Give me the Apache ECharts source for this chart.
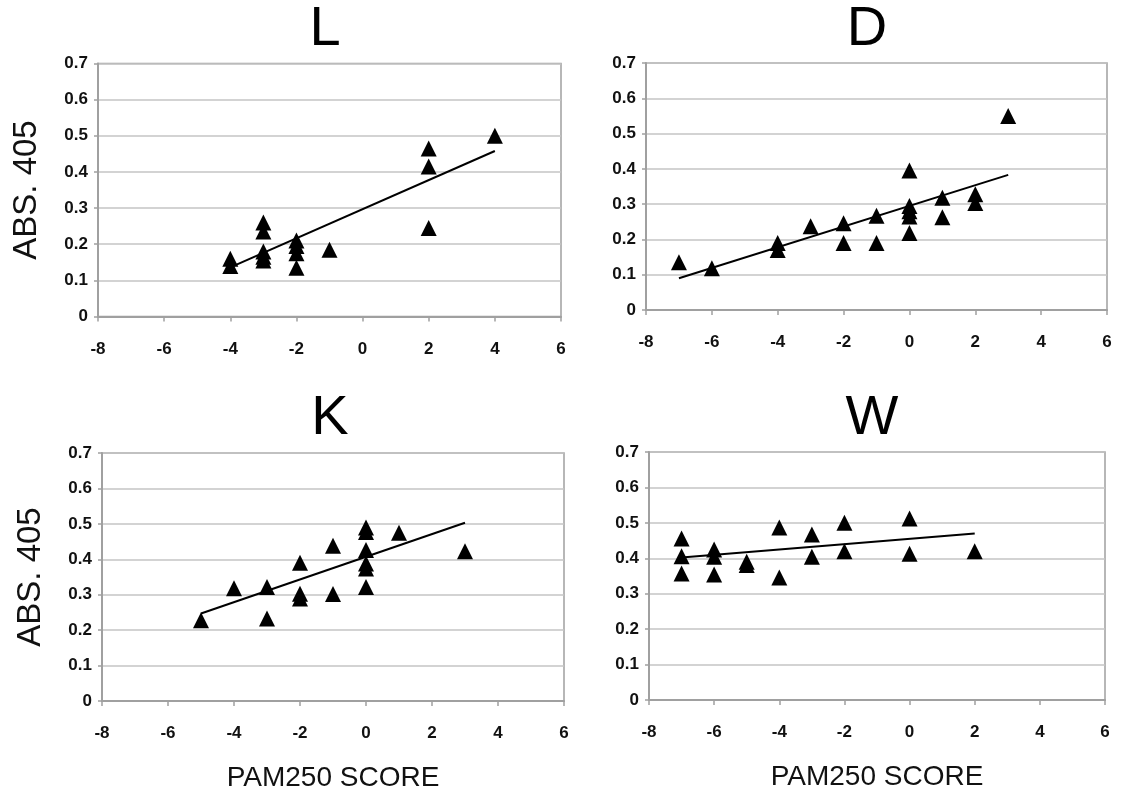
<!DOCTYPE html>
<html>
<head>
<meta charset="utf-8">
<script src="https://cdn.jsdelivr.net/npm/echarts@6/dist/echarts.min.js"></script>
<style>html,body{margin:0;padding:0;background:#fff}#c{width:1133px;height:801px}</style>
</head>
<body>
<div id="c"></div>
<script>
// ---- data ----
const panelTitles = ['L', 'D', 'K', 'W'];
const xTickMin = -8, xTickMax = 6, xTickStep = 2;
const yTickMin = 0, yTickMax = 0.7, yTickStep = 0.1;
const xAxisTitle = 'PAM250 SCORE';
const yAxisTitle = 'ABS. 405';

const L_x = [-4, -4, -3, -3, -3, -3, -3, -2, -2, -2, -2, -1, 2, 2, 2, 4];
const L_y = [0.16, 0.14, 0.26, 0.235, 0.18, 0.165, 0.155, 0.21, 0.195, 0.175, 0.135, 0.185, 0.465, 0.415, 0.245, 0.50];
const L_trend_x = [-4, 4];
const L_trend_y = [0.136, 0.458];

const D_x = [-7, -6, -4, -4, -3, -2, -2, -1, -1, 0, 0, 0, 0, 0, 1, 1, 2, 2, 3];
const D_y = [0.135, 0.118, 0.19, 0.17, 0.237, 0.246, 0.19, 0.267, 0.19, 0.395, 0.295, 0.28, 0.265, 0.218, 0.318, 0.263, 0.328, 0.303, 0.55];
const D_trend_x = [-7, 3];
const D_trend_y = [0.09, 0.383];

const K_x = [-5, -4, -3, -3, -2, -2, -2, -1, -1, 0, 0, 0, 0, 0, 0, 1, 3];
const K_y = [0.228, 0.318, 0.322, 0.233, 0.39, 0.303, 0.289, 0.438, 0.302, 0.49, 0.477, 0.426, 0.388, 0.374, 0.322, 0.475, 0.423];
const K_trend_x = [-5, 3];
const K_trend_y = [0.247, 0.503];

const W_x = [-7, -7, -7, -6, -6, -6, -5, -5, -4, -4, -3, -3, -2, -2, 0, 0, 2];
const W_y = [0.456, 0.406, 0.357, 0.425, 0.404, 0.354, 0.39, 0.381, 0.487, 0.346, 0.467, 0.404, 0.5, 0.42, 0.512, 0.413, 0.42];
const W_trend_x = [-7, 2];
const W_trend_y = [0.402, 0.47];

// ---- layout ----
const panels = [
  { xs: L_x, ys: L_y, tx: L_trend_x, ty: L_trend_y, grid: { left: 98, top: 63.5, width: 463, height: 253 }, title: [325, 30], xName: false },
  { xs: D_x, ys: D_y, tx: D_trend_x, ty: D_trend_y, grid: { left: 646, top: 63, width: 461, height: 247 }, title: [867, 30], xName: false },
  { xs: K_x, ys: K_y, tx: K_trend_x, ty: K_trend_y, grid: { left: 102, top: 453, width: 462, height: 248 }, title: [330, 419], xName: true },
  { xs: W_x, ys: W_y, tx: W_trend_x, ty: W_trend_y, grid: { left: 649, top: 452, width: 456, height: 248 }, title: [872, 419], xName: true }
];
const yNameOn = [true, false, true, false];

const FONT = '"Liberation Sans", Arial, sans-serif';
const gridLine = '#c4c4c4';
const axisGray = '#a0a0a0';

const grids = [], xAxes = [], yAxes = [], series = [], graphics = [];
panels.forEach((p, i) => {
  grids.push(Object.assign({ show: true, borderColor: axisGray, borderWidth: 1.5, backgroundColor: 'transparent', containLabel: false }, p.grid));
  xAxes.push({
    type: 'value', gridIndex: i, min: xTickMin, max: xTickMax, interval: xTickStep,
    axisLine: { onZero: false, lineStyle: { color: axisGray, width: 2 } },
    axisTick: { show: true, inside: false, length: 5, lineStyle: { color: axisGray, width: 1.5 } },
    axisLabel: { margin: 24, color: '#111', fontFamily: FONT, fontWeight: 'bold', fontSize: 17 },
    splitLine: { show: false },
    name: p.xName ? xAxisTitle : '', nameLocation: 'middle', nameGap: 63,
    nameTextStyle: { fontFamily: FONT, fontSize: 28, color: '#111' }
  });
  yAxes.push({
    type: 'value', gridIndex: i, min: yTickMin, max: yTickMax, interval: yTickStep,
    axisLine: { show: true, onZero: false, lineStyle: { color: axisGray, width: 2 } },
    axisTick: { show: true, inside: false, length: 4, lineStyle: { color: axisGray, width: 1.5 } },
    axisLabel: { margin: 10, color: '#111', fontFamily: FONT, fontWeight: 'bold', fontSize: 17,
      formatter: v => (Math.round(v * 10) / 10).toString() },
    splitLine: { show: true, lineStyle: { color: gridLine, width: 1.5 } },
    name: yNameOn[i] ? yAxisTitle : '', nameLocation: 'middle', nameRotate: 90, nameGap: 55,
    nameTextStyle: { fontFamily: FONT, fontSize: 33, color: '#111' }
  });
  series.push({
    type: 'scatter', xAxisIndex: i, yAxisIndex: i,
    data: p.xs.map((x, k) => [x, p.ys[k]]),
    symbol: 'triangle', symbolSize: [16, 16],
    itemStyle: { color: '#000', opacity: 1 }, z: 3
  });
  series.push({
    type: 'line', xAxisIndex: i, yAxisIndex: i,
    data: p.tx.map((x, k) => [x, p.ty[k]]),
    symbol: 'none', lineStyle: { color: '#000', width: 2 }, z: 2
  });
  graphics.push({
    type: 'text', x: p.title[0], y: p.title[1],
    style: { text: panelTitles[i], fontFamily: FONT, fontSize: 56, fill: '#000',
      textAlign: 'center', textVerticalAlign: 'middle', align: 'center', verticalAlign: 'middle' }
  });
});

const chart = echarts.init(document.getElementById('c'), null, { renderer: 'canvas' });
chart.setOption({
  animation: false,
  backgroundColor: '#fff',
  grid: grids, xAxis: xAxes, yAxis: yAxes, series: series,
  graphic: graphics
});
</script>
</body>
</html>
